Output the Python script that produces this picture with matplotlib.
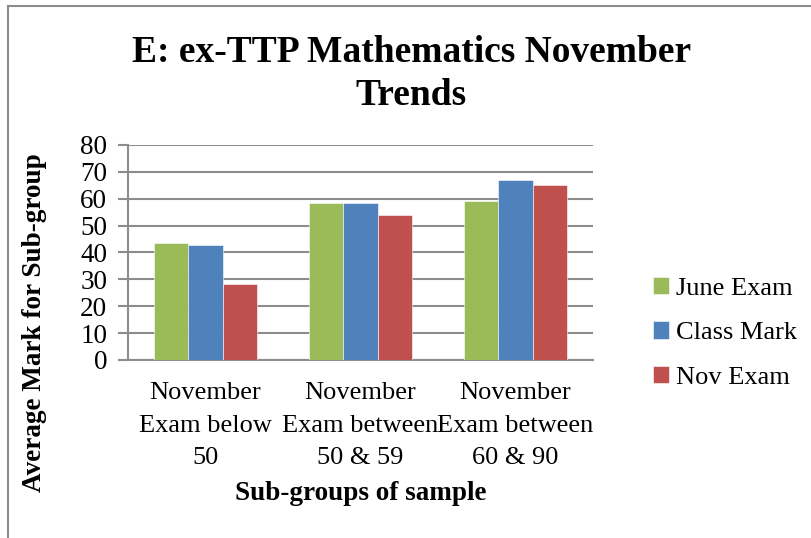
import matplotlib.pyplot as plt
import numpy as np
from matplotlib.lines import Line2D

plt.rcParams['font.family'] = ['Liberation Serif', 'DejaVu Serif']

# data
categories = ["November\nExam below\n50", "November\nExam between\n50 & 59", "November\nExam between\n60 & 90"]
june_exam = [43.5, 58.5, 59.0]
class_mark = [42.8, 58.3, 67.0]
nov_exam = [28.4, 54.0, 65.0]

series = [("June Exam", june_exam, '#9BBB59'),
          ("Class Mark", class_mark, '#4F81BD'),
          ("Nov Exam", nov_exam, '#C0504D')]

fig = plt.figure(figsize=(8.11, 5.38), dpi=100)
ax = fig.add_axes([0.1578, 0.3309, 0.5734, 0.3996])

x = np.arange(len(categories))
w = 0.222
for i, (name, vals, col) in enumerate(series):
    ax.bar(x + (i - 1) * w, vals, width=w, color=col, label=name,
           edgecolor='white', linewidth=0.4, zorder=3)

ax.set_xlim(-0.5, 2.5)
ax.set_ylim(0, 80)
ax.set_yticks(range(0, 81, 10))
ax.yaxis.grid(True, color='#8c8c8c', linewidth=1.5, zorder=0)
ax.set_axisbelow(True)

for s in ['top', 'right']:
    ax.spines[s].set_visible(False)
ax.spines['left'].set_color('#8c8c8c')
ax.spines['left'].set_linewidth(1.5)
ax.spines['bottom'].set_color('#8c8c8c')
ax.spines['bottom'].set_linewidth(1.5)

ax.tick_params(axis='y', labelsize=19.5, length=7, width=1.5, color='#8c8c8c', pad=8)
ax.tick_params(axis='x', labelsize=19, length=0, pad=16)
ax.set_xticks(x)
ax.set_xticklabels(categories, linespacing=1.62)

fig.text(0.507, 0.863, "E: ex-TTP Mathematics November\nTrends", ha='center', va='center',
         fontsize=27, fontweight='bold', linespacing=1.3)
fig.text(0.445, 0.083, "Sub-groups of sample", ha='center', va='center',
         fontsize=19.5, fontweight='bold')
fig.text(0.043, 0.40, "Average Mark for Sub-group", ha='center', va='center',
         rotation=90, fontsize=19.5, fontweight='bold')

ax.legend(loc='center left', bbox_to_anchor=(1.078, 0.126), frameon=False, fontsize=19,
          handlelength=0.62, handleheight=0.62, handletextpad=0.25, labelspacing=0.82)

# outer chart border (left and top)
fig.add_artist(Line2D([0.0099, 0.0099], [0, 0.989], transform=fig.transFigure, color='#8c8c8c', lw=1.5))
fig.add_artist(Line2D([0.0099, 1.0], [0.989, 0.989], transform=fig.transFigure, color='#8c8c8c', lw=1.5))

fig.savefig('out.png', dpi=100)
